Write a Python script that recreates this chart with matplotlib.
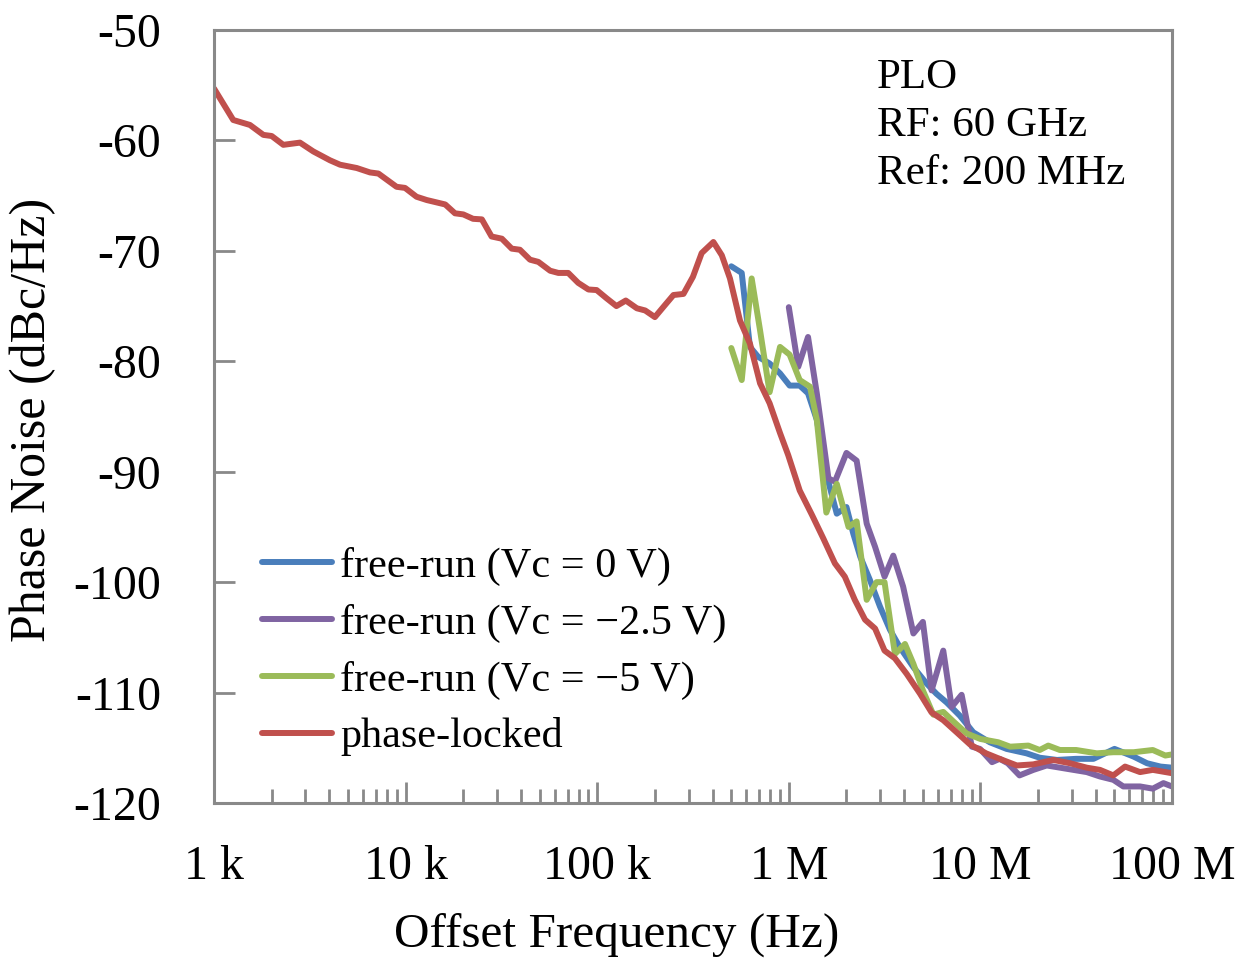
import matplotlib
matplotlib.use("Agg")
import matplotlib.pyplot as plt
from matplotlib.ticker import LogLocator, NullFormatter

plt.rcParams['font.family'] = ['Liberation Serif', 'DejaVu Serif']

# ---------------- data ----------------
f_locked = [1000, 1260, 1540, 1810, 2000, 2300, 2810, 3300, 4030, 4550, 5560, 6520, 7210, 8970, 9930,
            11400, 12900, 16100, 18100, 20000, 22500, 25000, 28100, 31800, 35800, 39500, 44600, 49300,
            56800, 62700, 70600, 79600, 90000, 99300, 112000, 126000, 141000, 161000, 178000, 200000,
            226000, 250000, 282000, 316000, 351000, 404000, 447000, 493000, 556000, 627000, 708000,
            794000, 900000, 993000, 1.14e6, 1.32e6, 1.51e6, 1.74e6, 1.96e6, 2.21e6, 2.50e6, 2.82e6,
            3.16e6, 3.58e6, 4.12e6, 4.84e6, 5.56e6, 6.40e6, 7.52e6, 8.83e6, 1.07e7, 1.26e7, 1.55e7,
            1.89e7, 2.40e7, 2.94e7, 3.59e7, 4.21e7, 4.94e7, 5.69e7, 6.81e7, 7.94e7, 1e8]
pn_locked = [-55.3, -58.15, -58.6, -59.5, -59.6, -60.4, -60.2, -61.0, -61.8, -62.2, -62.5, -62.9, -63.0,
             -64.2, -64.3, -65.1, -65.4, -65.8, -66.6, -66.7, -67.1, -67.15, -68.7, -68.9, -69.8, -69.9,
             -70.8, -71.0, -71.8, -72.0, -72.0, -72.9, -73.5, -73.55, -74.3, -75.0, -74.5, -75.2, -75.4,
             -76.0, -74.9, -74.0, -73.9, -72.35, -70.2, -69.2, -70.4, -72.5, -76.3, -78.4, -82.0, -83.8,
             -86.5, -88.5, -91.7, -93.9, -96.0, -98.3, -99.5, -101.6, -103.4, -104.2, -106.2, -106.9,
             -108.3, -110.1, -111.8, -112.5, -113.6, -114.7, -115.5, -116.0, -116.6, -116.5, -116.1,
             -116.4, -116.8, -117.0, -117.5, -116.7, -117.2, -117.0, -117.3]

f_vc0 = [501000, 568000, 627000, 692000, 794000, 900000, 1.01e6, 1.14e6, 1.26e6, 1.40e6, 1.57e6, 1.78e6,
         2.00e6, 2.17e6, 2.36e6, 2.65e6, 2.99e6, 3.37e6, 3.80e6, 4.47e6, 5.25e6, 5.89e6, 6.67e6, 7.82e6,
         9.18e6, 1.12e7, 1.37e7, 1.74e7, 2.04e7, 2.51e7, 3.16e7, 3.89e7, 5.01e7, 6.31e7, 7.41e7, 8.71e7, 1e8]
pn_vc0 = [-71.4, -72.0, -78.7, -79.6, -80.2, -81.1, -82.2, -82.2, -82.9, -85.3, -90.2, -93.8, -93.2,
          -95.6, -97.7, -99.8, -102.2, -104.3, -105.9, -107.7, -109.2, -110.1, -110.9, -112.1, -113.6,
          -114.5, -115.1, -115.5, -115.9, -116.1, -116.0, -116.0, -115.1, -115.8, -116.4, -116.7, -116.8]

f_vc25 = [1.00e6, 1.12e6, 1.26e6, 1.40e6, 1.61e6, 1.74e6, 2.00e6, 2.26e6, 2.55e6, 2.82e6, 3.16e6, 3.51e6,
          3.95e6, 4.47e6, 5.01e6, 5.56e6, 6.40e6, 7.08e6, 7.98e6, 9.02e6, 9.95e6, 1.15e7, 1.26e7, 1.39e7,
          1.60e7, 1.89e7, 2.22e7, 2.82e7, 3.59e7, 4.21e7, 4.94e7, 5.57e7, 6.81e7, 7.94e7, 9.02e7, 1e8]
pn_vc25 = [-75.1, -80.5, -77.8, -82.9, -90.6, -90.9, -88.3, -89.0, -94.7, -96.8, -99.5, -97.6, -100.4,
           -104.65, -103.6, -109.8, -106.2, -111.3, -110.2, -114.9, -115.1, -116.3, -116.0, -116.4, -117.5,
           -117.0, -116.6, -116.9, -117.2, -117.6, -117.9, -118.5, -118.5, -118.7, -118.2, -118.5]

f_vc5 = [501000, 568000, 640000, 708000, 794000, 900000, 1.01e6, 1.14e6, 1.29e6, 1.40e6, 1.57e6, 1.78e6,
         2.05e6, 2.26e6, 2.55e6, 2.87e6, 3.16e6, 3.58e6, 4.04e6, 4.47e6, 5.01e6, 5.68e6, 6.40e6, 7.21e6,
         8.47e6, 1.0e7, 1.24e7, 1.43e7, 1.78e7, 2.04e7, 2.26e7, 2.60e7, 3.16e7, 4.05e7, 4.94e7, 6.31e7,
         7.94e7, 9.23e7, 1e8]
pn_vc5 = [-78.8, -81.7, -72.5, -77.2, -82.8, -78.7, -79.4, -81.7, -82.3, -85.3, -93.7, -91.1, -95.0,
          -94.5, -101.6, -100.0, -100.0, -106.5, -105.6, -107.4, -109.8, -112.0, -111.75, -112.6, -113.7,
          -114.2, -114.5, -114.9, -114.8, -115.2, -114.8, -115.2, -115.2, -115.5, -115.4, -115.4, -115.2,
          -115.7, -115.6]

labels = ['free-run (Vc = 0 V)', 'free-run (Vc = \u22122.5 V)', 'free-run (Vc = \u22125 V)', 'phase-locked']
colors = ['#4A7EBB', '#8064A2', '#9BBB59', '#C0504D']
xtick_vals = [1e3, 1e4, 1e5, 1e6, 1e7, 1e8]
xtick_labels = ['1 k', '10 k', '100 k', '1 M', '10 M', '100 M']
yticks = [-50, -60, -70, -80, -90, -100, -110, -120]

# ---------------- plot ----------------
fig = plt.figure(figsize=(12.5, 9.64), dpi=100)
ax = fig.add_axes([0.1712, 0.167, 0.9376 - 0.1712, 0.9689 - 0.167])

series = [(f_vc0, pn_vc0), (f_vc25, pn_vc25), (f_vc5, pn_vc5), (f_locked, pn_locked)]
for (fx, py), lab, c in zip(series, labels, colors):
    ax.plot(fx, py, color=c, lw=4.3, label=lab, solid_joinstyle='round', solid_capstyle='round')

ax.set_xscale('log')
ax.set_xlim(1e3, 1e8)
ax.set_ylim(-120, -50)
ax.set_xticks(xtick_vals)
ax.set_xticklabels(xtick_labels)
ax.xaxis.set_minor_locator(LogLocator(base=10, subs=range(2, 10)))
ax.xaxis.set_minor_formatter(NullFormatter())
ax.set_yticks(yticks)
ax.set_yticklabels([str(v) for v in yticks])

gray = '#898989'
for s in ax.spines.values():
    s.set_color(gray)
    s.set_linewidth(2.2)
ax.tick_params(axis='both', which='major', direction='in', length=15, width=2, color=gray,
               labelsize=34.5)
ax.tick_params(axis='x', which='minor', direction='in', length=10, width=2, color=gray)
ax.tick_params(axis='x', which='major', pad=30)
ax.tick_params(axis='y', which='major', pad=38)

fig.text(617 / 1250, 1 - 935 / 964, 'Offset Frequency (Hz)', fontsize=35.5, ha='center', va='center')
fig.text(33 / 1250, 1 - 420 / 964, 'Phase Noise (dBc/Hz)', fontsize=36, ha='center', va='center',
         rotation=90)

ax.text(877 / 1250, 1 - 59 / 964, 'PLO\nRF: 60 GHz\nRef: 200 MHz', transform=fig.transFigure,
        fontsize=31, va='top', ha='left', linespacing=1.32)

leg = ax.legend(loc='upper left', bbox_to_anchor=(262 / 1250, 1 - 547 / 964),
                bbox_transform=fig.transFigure, frameon=False, fontsize=30.4,
                handlelength=1.65, handletextpad=0.2, labelspacing=0.42, borderaxespad=0,
                borderpad=0)

fig.savefig('out.png', dpi=100)
